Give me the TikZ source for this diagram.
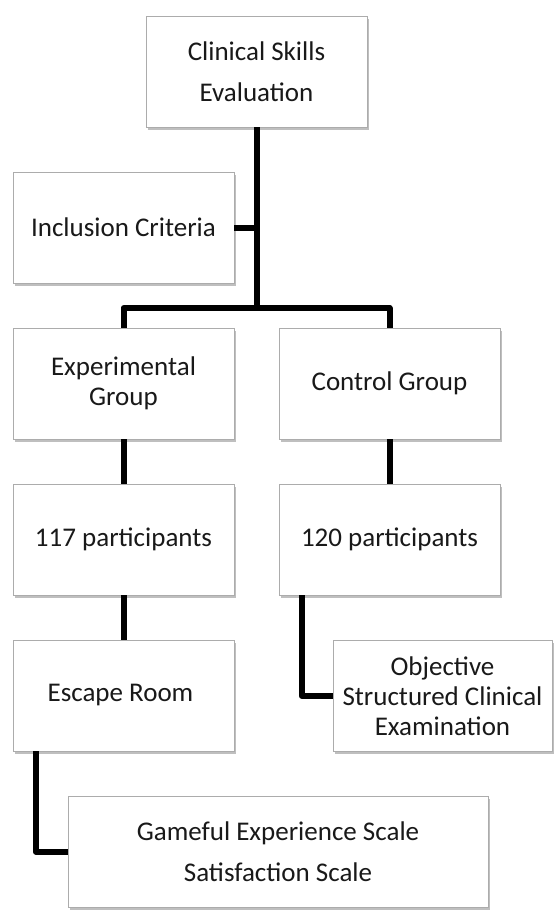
\documentclass[tikz,border=0pt]{standalone}
\usepackage{fontspec}
\setmainfont{Carlito}
\usetikzlibrary{shadows}

\begin{document}
\begin{tikzpicture}[
        x=1bp, y=-1bp,
        stage/.style={draw=gray!65, fill=white, minimum width=221bp, minimum height=111bp,
            align=center, text=black!90, font=\fontsize{27bp}{30bp}\selectfont,
            drop shadow={shadow xshift=2bp, shadow yshift=-2.5bp, fill=black, opacity=0.25}},
        wide/.style={font=\fontsize{27bp}{41bp}\selectfont},
        link/.style={line width=6bp, black, line join=round}
    ]
        \useasboundingbox (0,0) rectangle (557,911);

        % study stages
        \node[stage, wide] (eval) at (256.5,71.5) {Clinical Skills\\Evaluation};
        \foreach \name/\x/\y/\txt in {
            incl/123.5/227.5/Inclusion Criteria,
            expgrp/123.5/383.5/{Experimental\\Group},
            ctrlgrp/389.5/383.5/Control Group,
            exppart/123.5/539.5/117 participants,
            ctrlpart/389.5/539.5/120 participants,
            escape/123.5/695.5/Escape Room
        } {
            \node[stage] (\name) at (\x,\y) {\txt};
        }
        \node[stage, minimum width=219bp] (osce) at (442.5,696) {Objective\\Structured Clinical\\Examination};
        \node[stage, wide, minimum width=420bp] (scales) at (278,851.5) {Gameful Experience Scale\\Satisfaction Scale};

        % connectors
        \coordinate (split) at (256.5,308);
        \draw[link] (eval.south) -- (split);
        \draw[link] (incl.east) -- (incl.east -| split);
        \draw[link] (expgrp.north) |- (split) -| (ctrlgrp.north);
        \draw[link] (expgrp.south) -- (exppart.north);
        \draw[link] (ctrlgrp.south) -- (ctrlpart.north);
        \draw[link] (exppart.south) -- (escape.north);
        \draw[link] ([xshift=23bp]ctrlpart.south west) |- (osce.west);
        \draw[link] ([xshift=23bp]escape.south west) |- (scales.west);
    \end{tikzpicture}
\end{document}
